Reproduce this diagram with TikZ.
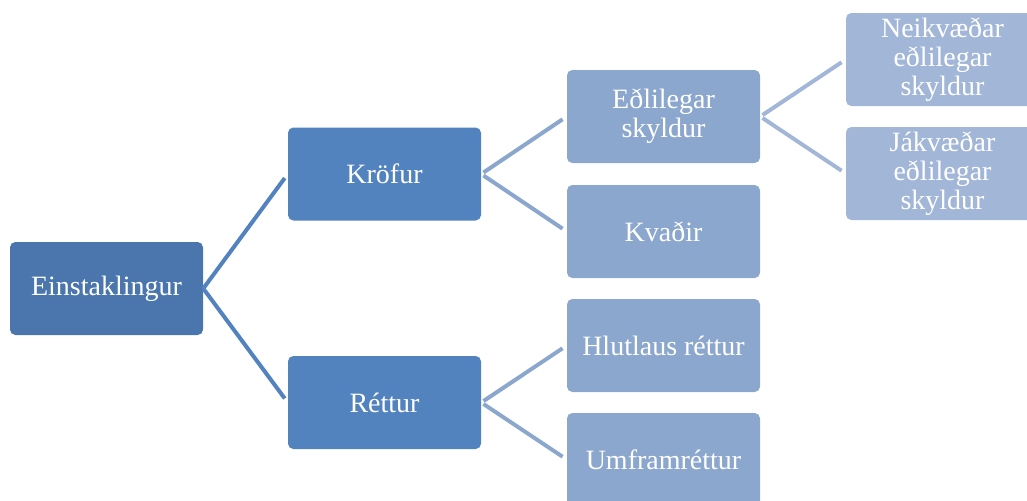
\documentclass[tikz,border=0pt]{standalone}
\usepackage{fontspec}
\setmainfont{Liberation Serif}
\usepackage{tikz}
\definecolor{rootblue}{HTML}{4A76AD}
\definecolor{midblue}{HTML}{5383BF}
\definecolor{lightblue}{HTML}{8CA7CD}
\definecolor{paleblue}{HTML}{A2B6D8}
\tikzset{
  box/.style={rounded corners=4pt,minimum width=144.75pt,minimum height=69.75pt,
    inner sep=0pt,text=white,align=center,font=\fontsize{21}{21.75}\selectfont},
  link/.style={line width=3pt,shorten <=2pt,shorten >=3.75pt}
}

\begin{document}
\begin{tikzpicture}[x=0.75pt,y=-0.75pt]
    \useasboundingbox (0,0) rectangle (1027,500);
    % root
    \node[box,fill=rootblue] (einst) at (106.5,288.5) {Einstaklingur};
    % first level
    \node[box,fill=midblue] (krofur) at (384.5,174) {Kröfur};
    \node[box,fill=midblue] (rettur) at (384.5,402.5) {Réttur};
    % second level
    \node[box,fill=lightblue] (edli) at (663.5,116.5) {Eðlilegar\\skyldur};
    \node[box,fill=lightblue] (kvadir) at (663.5,231.5) {Kvaðir};
    \node[box,fill=lightblue] (hlut) at (663.5,345.5) {Hlutlaus réttur};
    \node[box,fill=lightblue] (umfram) at (663.5,459.5) {Umframréttur};
    % third level
    \node[box,fill=paleblue] (neikv) at (942.5,59.5) {Neikvæðar\\eðlilegar\\skyldur};
    \node[box,fill=paleblue] (jakv) at (942.5,173.5) {Jákvæðar\\eðlilegar\\skyldur};

    \draw[link,midblue,shorten <=0pt] (einst.east) -- (krofur.west);
    \draw[link,midblue,shorten <=0pt] (einst.east) -- (rettur.west);
    \draw[link,lightblue] (krofur.east) -- (edli.west);
    \draw[link,lightblue] (krofur.east) -- (kvadir.west);
    \draw[link,lightblue] (rettur.east) -- (hlut.west);
    \draw[link,lightblue] (rettur.east) -- (umfram.west);
    \draw[link,paleblue] (edli.east) -- (neikv.west);
    \draw[link,paleblue] (edli.east) -- (jakv.west);
\end{tikzpicture}
\end{document}
